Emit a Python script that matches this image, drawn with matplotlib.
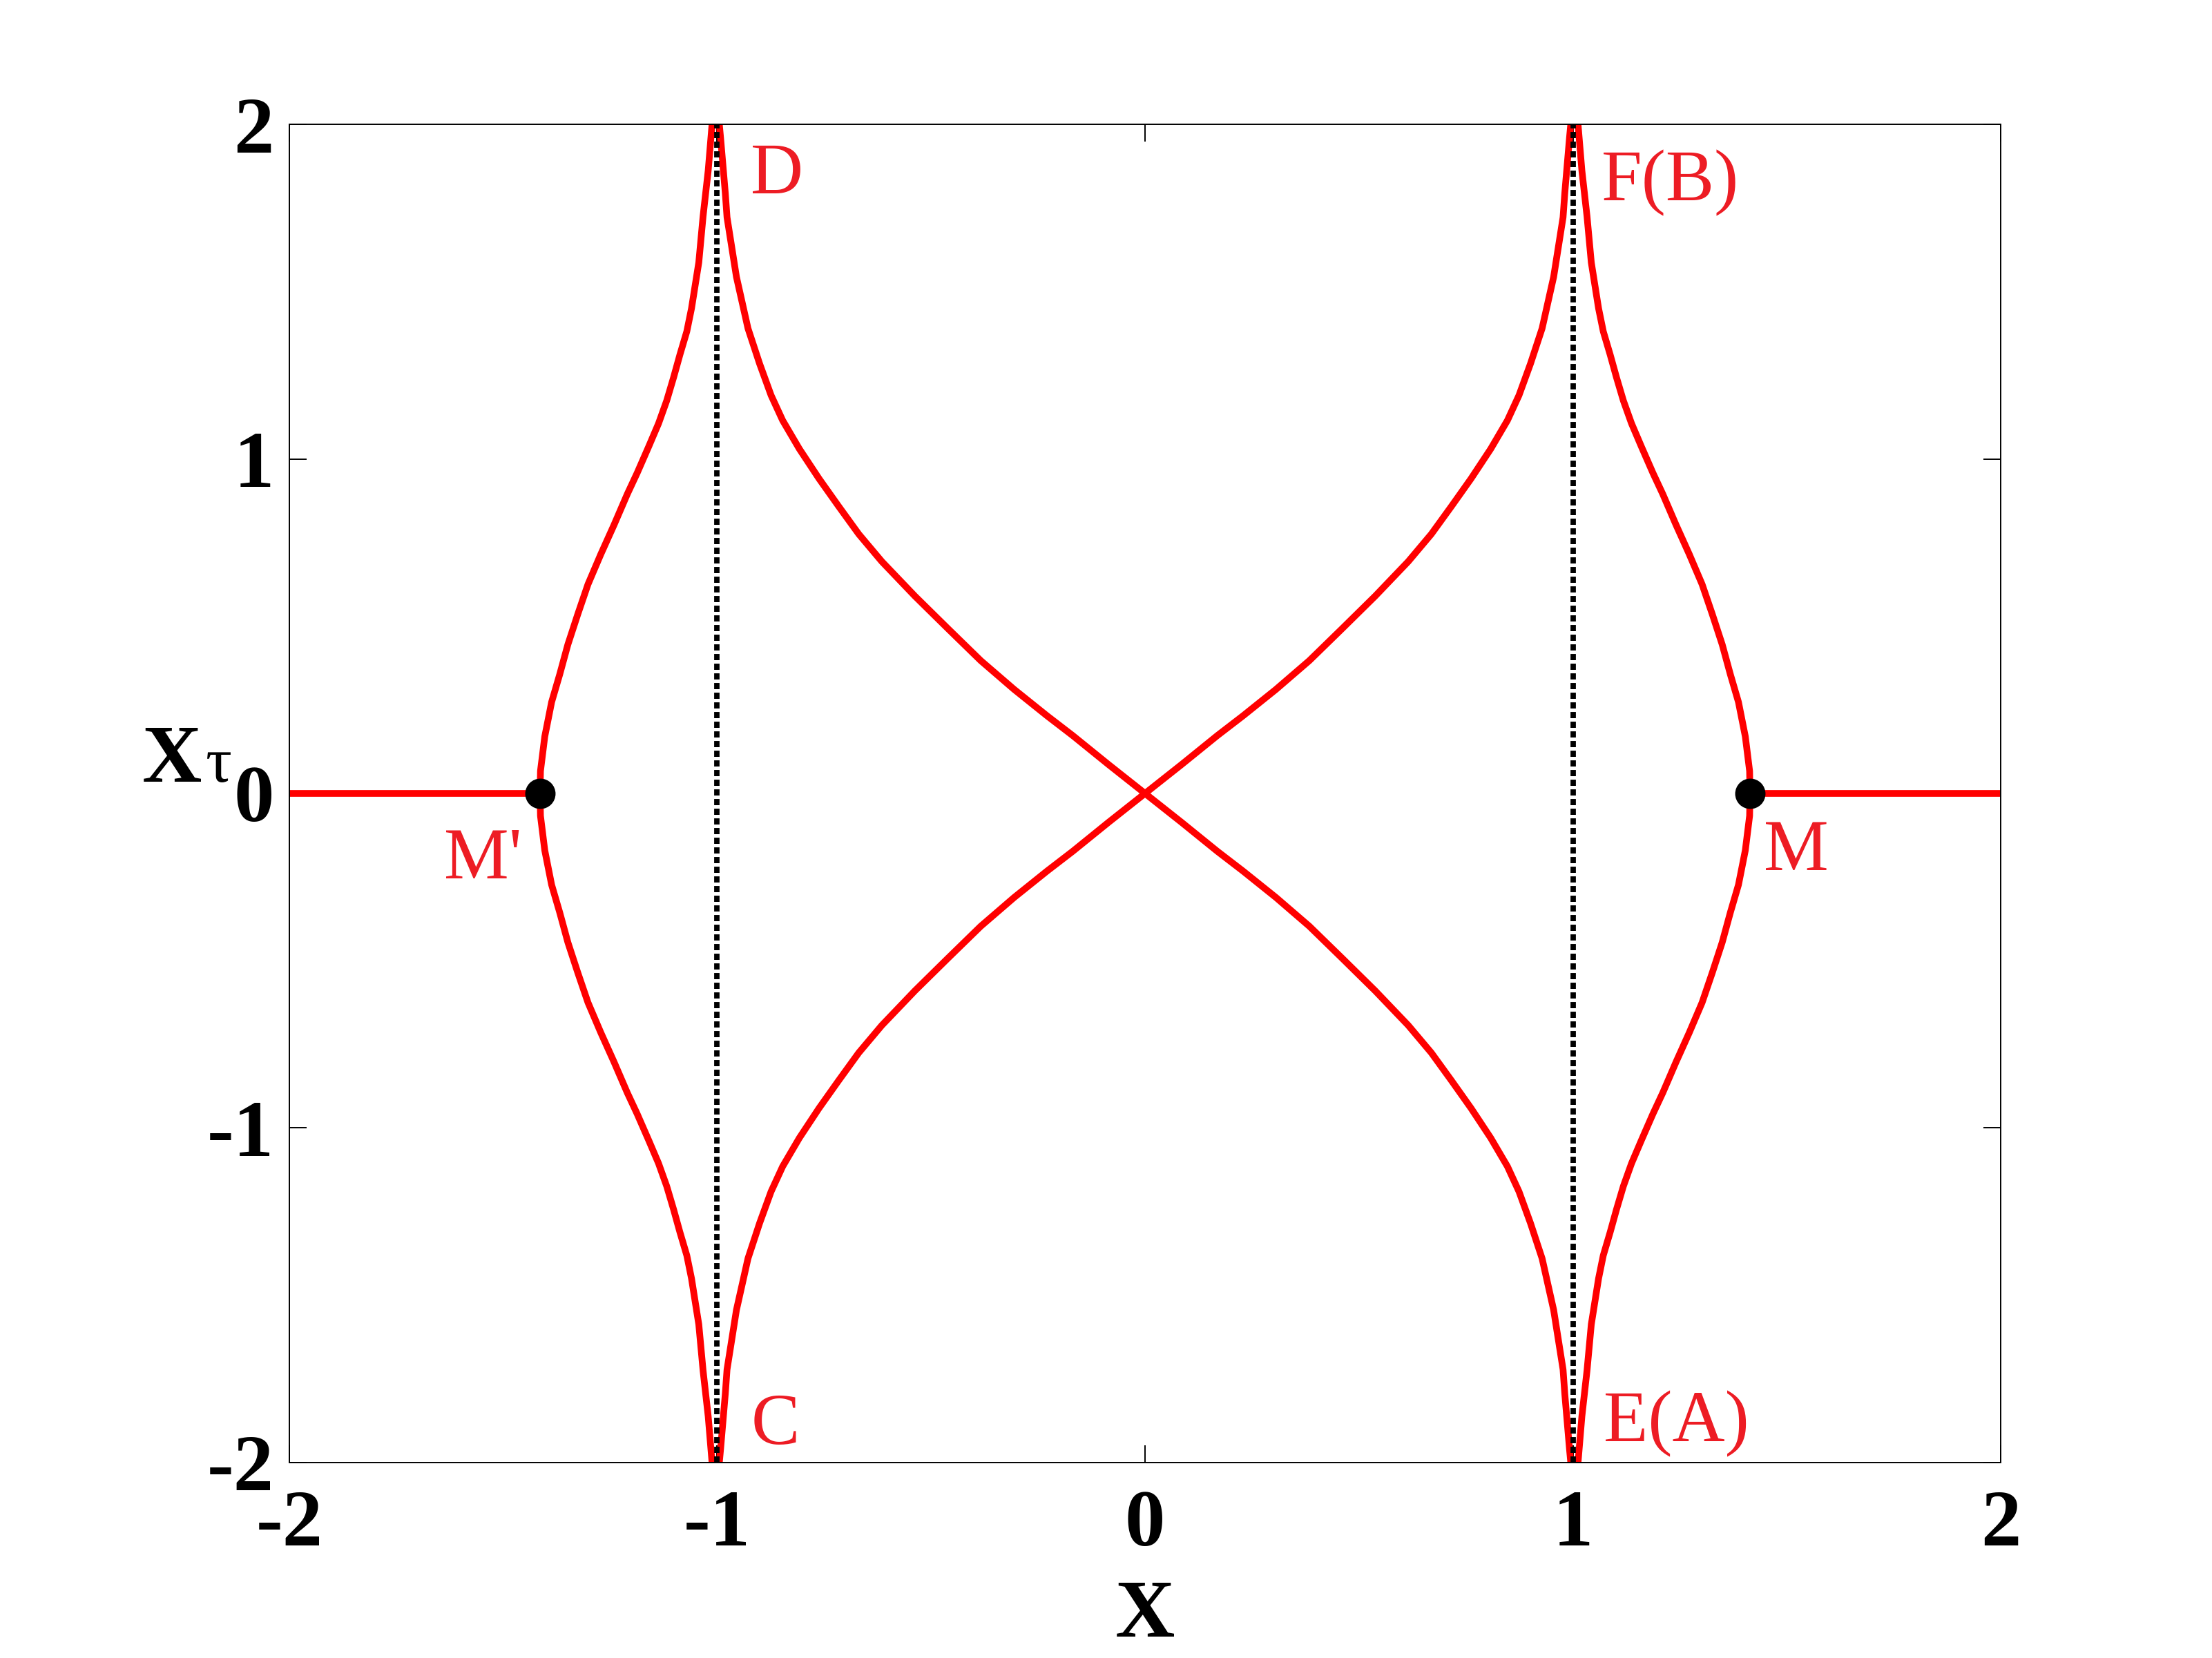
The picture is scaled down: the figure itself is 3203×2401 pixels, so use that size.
"""Phase portrait X_tau vs X with separatrices through the origin and the outer loops."""
import matplotlib

matplotlib.use("Agg")
import matplotlib.pyplot as plt
import numpy as np

# upper-right half of the separatrix through the origin (ends at F(B), x -> 1)
center_x = [0.0, 0.085, 0.169, 0.229, 0.306, 0.384, 0.461, 0.538, 0.615, 0.669,
            0.716, 0.762, 0.808, 0.847, 0.874, 0.901, 0.928, 0.955, 0.977, 0.981,
            0.992, 0.995]
center_y = [0.0, 0.086, 0.173, 0.232, 0.311, 0.397, 0.493, 0.590, 0.693, 0.775,
            0.858, 0.941, 1.030, 1.115, 1.190, 1.285, 1.390, 1.544, 1.722, 1.794,
            1.959, 2.0]

# upper half of the outer right curve, from F(B) down to M
outer_x = [1.012, 1.021, 1.033, 1.043, 1.060, 1.071, 1.087, 1.102, 1.118, 1.137,
           1.160, 1.187, 1.210, 1.241, 1.272, 1.302, 1.326, 1.349, 1.368, 1.387,
           1.403, 1.413, 1.414]
outer_y = [2.0, 1.862, 1.725, 1.587, 1.450, 1.381, 1.312, 1.243, 1.174, 1.106,
           1.037, 0.958, 0.895, 0.803, 0.715, 0.625, 0.535, 0.445, 0.356, 0.273,
           0.170, 0.067, 0.0]

m_x = 1.414  # saddle points M and M'
x_limits = [-2, 2]
asymptotes = [-1, 1]

ticks = [-2, -1, 0, 1, 2]
tick_labels = ["-2", "-1", "0", "1", "2"]

point_labels = ["D", "F(B)", "C", "E(A)", "M", "M'"]
point_label_x = [-0.921, 1.067, -0.921, 1.071, 1.446, -1.638]
point_label_y = [1.794, 1.773, -1.945, -1.937, -0.229, -0.253]

RED = "#ff0000"
LABEL_RED = "#ed1c24"
FONTS = ["Liberation Serif", "DejaVu Serif"]
LW = 3.5


def main() -> None:
    plt.rcParams["font.family"] = FONTS

    cx, cy = np.array(center_x), np.array(center_y)
    ox, oy = np.array(outer_x), np.array(outer_y)

    fig = plt.figure(figsize=(16.015, 12.005), dpi=200)
    ax = fig.add_axes([0.1308, 0.1179, 0.7737, 0.8071])

    # separatrices through the origin
    rise_x = np.concatenate([-cx[::-1], cx[1:]])
    rise_y = np.concatenate([-cy[::-1], cy[1:]])
    ax.plot(rise_x, rise_y, color=RED, lw=LW, zorder=2)
    ax.plot(-rise_x, rise_y, color=RED, lw=LW, zorder=2)

    # outer loops M -> F/E and M' -> D/C
    loop_x = np.concatenate([ox, ox[::-1][1:]])
    loop_y = np.concatenate([oy, -oy[::-1][1:]])
    ax.plot(loop_x, loop_y, color=RED, lw=LW, zorder=2)
    ax.plot(-loop_x, loop_y, color=RED, lw=LW, zorder=2)

    # flat segments from the saddle points to the frame
    ax.plot([m_x, x_limits[1]], [0, 0], color=RED, lw=LW, zorder=2)
    ax.plot([x_limits[0], -m_x], [0, 0], color=RED, lw=LW, zorder=2)

    for xa in asymptotes:
        ax.plot([xa, xa], [-2, 2], color="black", lw=2.8, dashes=(1.15, 0.65),
                dash_capstyle="butt", zorder=3)

    ax.plot([m_x, -m_x], [0, 0], "o", color="black", ms=14.8, zorder=4)

    for text, tx, ty in zip(point_labels, point_label_x, point_label_y):
        ax.text(tx, ty, text, color=LABEL_RED, fontsize=38, fontweight="normal",
                ha="left", va="baseline", zorder=5)

    ax.set_xlim(x_limits)
    ax.set_ylim(-2, 2)
    ax.set_xticks(ticks)
    ax.set_xticklabels(tick_labels)
    ax.set_yticks(ticks)
    ax.set_yticklabels(tick_labels)
    ax.tick_params(direction="in", length=9, width=0.7, top=True, right=True,
                   labelsize=42)
    ax.tick_params(axis="x", pad=14)
    ax.tick_params(axis="y", pad=8)
    for label in ax.get_xticklabels() + ax.get_yticklabels():
        label.set_fontweight("bold")
    for spine in ax.spines.values():
        spine.set_linewidth(0.7)

    ax.set_xlabel("X", fontsize=43, fontweight="bold")
    ax.xaxis.set_label_coords(0.5, -0.088)

    ax.text(-0.086, 0.5088, "X", transform=ax.transAxes, fontsize=43,
            fontweight="bold", ha="left", va="baseline")
    ax.text(-0.049, 0.5088, "τ", transform=ax.transAxes, fontsize=34,
            ha="left", va="baseline")

    fig.savefig("out.png", dpi=200)


if __name__ == "__main__":
    main()
